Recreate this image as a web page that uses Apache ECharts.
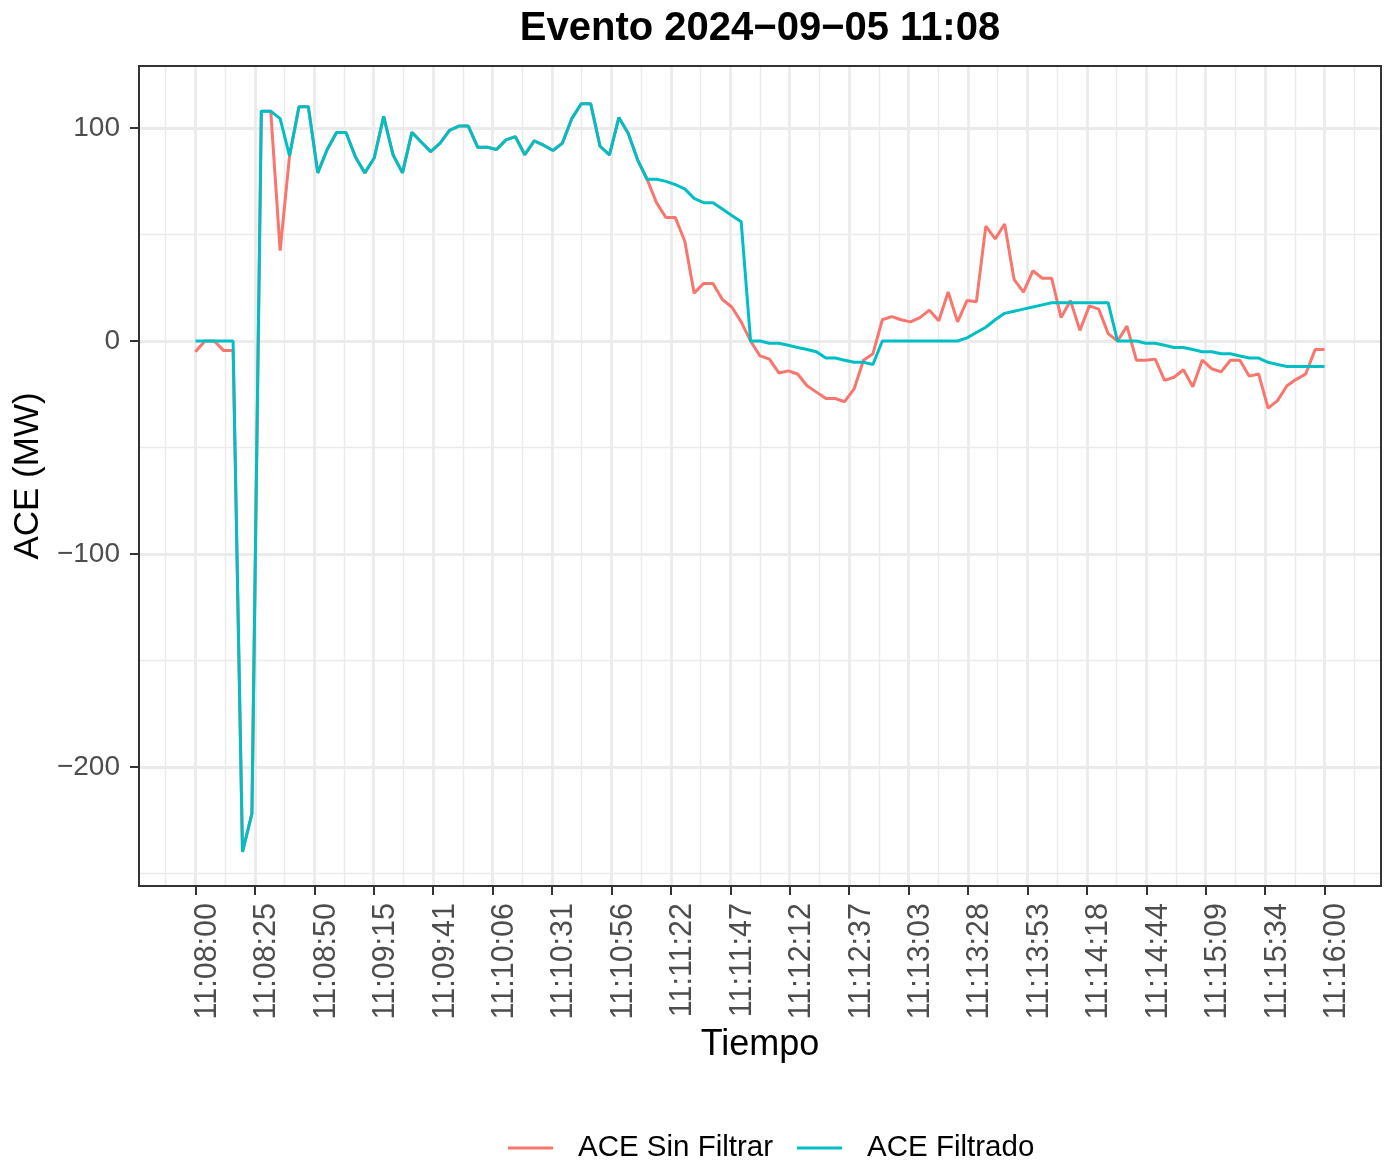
<!DOCTYPE html>
<html>
<head>
<meta charset="utf-8">
<script src="https://cdn.jsdelivr.net/npm/echarts@6/dist/echarts.min.js"></script>
<style>html,body{margin:0;padding:0;background:#fff}#c{width:1385px;height:1163px}</style>
</head>
<body>
<div id="c"></div>
<script>
// ---- data ----
const seriesNames = ['ACE Sin Filtrar', 'ACE Filtrado'];
const sampleStepSec = 4;
const aceSinFiltrar = [
  -5, 0, 0, -4.5, -4.5, -240, -222, 108, 108, 42.5,
  87, 110, 110, 79, 90, 98, 98, 86.5, 79, 86,
  105.5, 87.5, 79, 98, 93.5, 89, 93, 99, 101, 101,
  91, 91, 90, 94.5, 96, 87.5, 94, 92, 89.5, 93,
  104.5, 111.5, 111.5, 91.5, 87.5, 105, 97.5, 85, 76, 65,
  58, 58, 47, 22.5, 27, 27, 19.5, 16, 9, 0,
  -7, -8.5, -15, -14, -15.5, -21, -24, -27, -27, -28.5,
  -22.5, -9, -6, 10, 11.5, 10, 9, 11, 14.5, 9.5,
  23, 9, 19, 18.5, 54, 48, 55, 29, 23, 33,
  29.5, 29.5, 11, 19, 5, 16.5, 15, 3.5, 0, 7,
  -9, -9, -8.5, -18.5, -17, -13.5, -21.5, -9, -13, -14.5,
  -9, -9, -16.5, -15.5, -31.5, -28, -21, -18, -15.5, -4,
  -4
];
const aceFiltrado = [
  0, 0, 0, 0, 0, -240, -222, 108, 108, 104.5,
  87, 110, 110, 79, 90, 98, 98, 86.5, 79, 86,
  105.5, 87.5, 79, 98, 93.5, 89, 93, 99, 101, 101,
  91, 91, 90, 94.5, 96, 87.5, 94, 92, 89.5, 93,
  104.5, 111.5, 111.5, 91.5, 87.5, 105, 97.5, 85, 76, 76,
  75, 73.5, 71.5, 67, 65, 65, 62, 59, 56, 0,
  0, -1, -1, -2, -3, -4, -5, -8, -8, -9,
  -10, -10, -11, 0, 0, 0, 0, 0, 0, 0,
  0, 0, 1.5, 4, 6.5, 10, 13, 14, 15, 16,
  17, 18, 18, 18, 18, 18, 18, 18, 0, 0,
  0, -1, -1, -2, -3, -3, -4, -5, -5, -6,
  -6, -7, -8, -8, -10, -11, -12, -12, -12, -12,
  -12
];
const xTickLabels = ['11:08:00','11:08:25','11:08:50','11:09:15','11:09:41','11:10:06','11:10:31','11:10:56','11:11:22','11:11:47','11:12:12','11:12:37','11:13:03','11:13:28','11:13:53','11:14:18','11:14:44','11:15:09','11:15:34','11:16:00'];
const yTickValues = [-200, -100, 0, 100];
const yMinorValues = [-250, -150, -50, 50];
const titleText = 'Evento 2024\u221209\u221205 11:08';
const xTitle = 'Tiempo';
const yTitle = 'ACE (MW)';

// ---- build ----
const times = aceFiltrado.map((_, i) => i * sampleStepSec);
const spanSec = times[times.length - 1];
const tickStep = spanSec / (xTickLabels.length - 1);
const xTickValues = xTickLabels.map((_, i) => i * tickStep);
const xMinorValues = [];
for (let k = -1; k < xTickLabels.length; k++) xMinorValues.push((k + 0.5) * tickStep);
const xPad = spanSec * 0.05;
const labelMap = {};
xTickValues.forEach((v, i) => { labelMap[v.toFixed(3)] = xTickLabels[i]; });

const FONT = 'Liberation Sans, Arial, sans-serif';
const GRID_MAJOR = '#EBEBEB';
const minus = s => String(s).replace('-', '\u2212');

const major = { color: GRID_MAJOR, width: 2.8, type: 'solid' };
const minor = { color: GRID_MAJOR, width: 1.4, type: 'solid' };
const gridLines = [];
xMinorValues.forEach(v => gridLines.push({ xAxis: v, lineStyle: minor }));
yMinorValues.forEach(v => gridLines.push({ yAxis: v, lineStyle: minor }));
xTickValues.forEach(v => gridLines.push({ xAxis: v, lineStyle: major }));
yTickValues.forEach(v => gridLines.push({ yAxis: v, lineStyle: major }));

const chart = echarts.init(document.getElementById('c'), null, { renderer: 'canvas' });
chart.setOption({
  animation: false,
  backgroundColor: '#ffffff',
  textStyle: { fontFamily: FONT },
  title: {
    text: titleText,
    left: 755,
    top: 4,
    textAlign: 'center',
    textStyle: { fontFamily: FONT, fontWeight: 'bold', fontSize: 40, color: '#000' }
  },
  legend: {
    data: seriesNames,
    icon: 'rect',
    left: 508,
    top: 1133,
    padding: 0,
    itemWidth: 45,
    itemHeight: 3,
    itemGap: 24,
    textStyle: { fontFamily: FONT, fontSize: 29.5, color: '#000', padding: [0, 0, 0, 20] }
  },
  grid: {
    left: 139, right: 4, top: 66, bottom: 1163 - 886,
    show: true, borderColor: '#333333', borderWidth: 2, backgroundColor: 'transparent',
    containLabel: false,
    z: 10
  },
  xAxis: {
    type: 'value',
    min: -xPad,
    max: spanSec + xPad,
    name: xTitle,
    nameLocation: 'middle',
    nameGap: 141,
    nameTextStyle: { fontFamily: FONT, fontSize: 36, color: '#000' },
    axisLine: { show: false, onZero: false },
    splitLine: { show: false },
    axisTick: { show: true, customValues: xTickValues, length: 9, lineStyle: { color: '#333333', width: 2 } },
    axisLabel: {
      customValues: xTickValues,
      rotate: 90,
      margin: 17,
      verticalAlign: 'top',
      lineHeight: 24,
      fontFamily: FONT, fontSize: 30.5, color: '#4D4D4D',
      formatter: v => labelMap[Number(v).toFixed(3)] || ''
    }
  },
  yAxis: {
    type: 'value',
    min: -256,
    max: 129.2,
    name: yTitle,
    nameLocation: 'middle',
    nameGap: 93,
    nameTextStyle: { fontFamily: FONT, fontSize: 35, color: '#000' },
    axisLine: { show: false, onZero: false },
    splitLine: { show: false },
    axisTick: { show: true, customValues: yTickValues, length: 9, lineStyle: { color: '#333333', width: 2 } },
    axisLabel: {
      customValues: yTickValues,
      margin: 19,
      fontFamily: FONT, fontSize: 28, color: '#4D4D4D',
      formatter: v => minus(v)
    }
  },
  series: [
    {
      name: '__grid',
      type: 'line',
      data: [],
      silent: true,
      z: 1,
      markLine: {
        silent: true, symbol: 'none', label: { show: false }, z: 1,
        animation: false,
        data: gridLines
      }
    },
    {
      name: seriesNames[0],
      type: 'line',
      z: 3,
      symbol: 'none',
      showSymbol: false,
      color: '#F8766D',
      lineStyle: { color: '#F8766D', width: 3 },
      data: times.map((t, i) => [t, aceSinFiltrar[i]])
    },
    {
      name: seriesNames[1],
      type: 'line',
      z: 4,
      symbol: 'none',
      showSymbol: false,
      color: '#00BFC4',
      lineStyle: { color: '#00BFC4', width: 3 },
      data: times.map((t, i) => [t, aceFiltrado[i]])
    }
  ]
});
</script>
</body>
</html>
